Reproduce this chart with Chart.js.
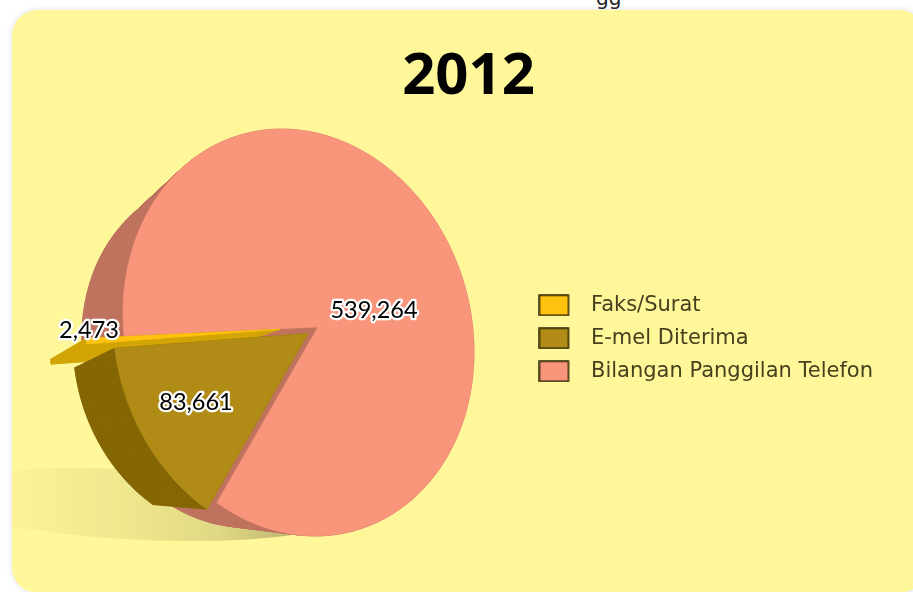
<!DOCTYPE html>
<html><head><meta charset="utf-8">
<style>
html,body{margin:0;padding:0;background:#fff;width:913px;height:592px;overflow:hidden}
#card{position:absolute;left:12px;top:10px;width:913px;height:583px;background:#fff799;border-radius:26px;box-shadow:0 0 7px rgba(0,0,0,.12)}
#clip{position:absolute;left:596px;top:-14px;font:20px "DejaVu Sans";color:#222}
canvas{display:block}
</style>
<script src="https://cdn.jsdelivr.net/npm/chart.js@4"></script>
</head><body>
<div id="clip">gg</div>
<div id="card"><canvas id="c" width="913" height="583"></canvas></div>
<script>
const titleText = '2012';
const categories = ['Bilangan Panggilan Telefon', 'E-mel Diterima', 'Faks/Surat'];
const values = [539264, 83661, 2473];
const colours = ['#f9957a', '#b08c17', '#ffc20e'];
const sideColours = ['#bf735f', '#846605', '#d2a406'];
const sliceOffsets = [0, 12, 38];

// Picture-space projection of the tilted pie
const APEX = {x: 318, y: 327}, ELL = {x: 298.5, y: 332.5, rx: 175.5, sh: 19.5, ry: 202.5};
const GAP_MID = 145.6 * Math.PI / 180, WARP = 0.129;
const LABEL_AT = [[374, 310], [196, 402], [89, 330]];
const DRAW_ORDER = [0, 2, 1];
const toBack = p => ({x: -22.75 + 0.85 * p.x, y: 71.75 + 0.85 * p.y});
function rimPoint(a) {
  const t = a + WARP * Math.sin(a - GAP_MID), c = Math.cos(t), s = Math.sin(t);
  return {x: ELL.x + ELL.rx * c, y: ELL.y + ELL.sh * c + ELL.ry * s};
}
function sliceOutline(arc) {
  const s = arc.startAngle, e = arc.endAngle, mid = (s + e) / 2;
  const m = rimPoint(mid), dx = m.x - APEX.x, dy = m.y - APEX.y, d = Math.hypot(dx, dy);
  const off = arc.options.offset || 0, ox = off * dx / d, oy = off * dy / d;
  const rim = [], n = Math.max(2, Math.ceil((e - s) / 0.02));
  for (let i = 0; i <= n; i++) {
    const r = rimPoint(s + (e - s) * i / n);
    rim.push({x: r.x + ox, y: r.y + oy});
  }
  return {apex: {x: APEX.x + ox, y: APEX.y + oy}, rim};
}
function fillPoly(ctx, pts, col) {
  ctx.beginPath();
  pts.forEach((p, i) => i ? ctx.lineTo(p.x, p.y) : ctx.moveTo(p.x, p.y));
  ctx.closePath();
  ctx.fillStyle = col; ctx.strokeStyle = col; ctx.lineWidth = 0.6; ctx.lineJoin = 'round';
  ctx.fill(); ctx.stroke();
}
const pie3d = {
  id: 'pie3d',
  beforeDatasetDraw() { return false; },
  afterDatasetsDraw(chart) {
    const ctx = chart.ctx, arcs = chart.getDatasetMeta(0).data;
    ctx.save();
    ctx.translate(-12, -10);
    // ground shadow
    ctx.save();
    const g = ctx.createLinearGradient(12, 0, 330, 0);
    g.addColorStop(0, 'rgba(120,120,60,.03)');
    g.addColorStop(0.35, 'rgba(120,120,60,.12)');
    g.addColorStop(0.65, 'rgba(110,110,60,.22)');
    g.addColorStop(0.85, 'rgba(100,100,60,.4)');
    g.addColorStop(1, 'rgba(70,70,40,.8)');
    ctx.fillStyle = g;
    ctx.beginPath();
    ctx.ellipse(135, 504.5, 205, 35, 3 * Math.PI / 180, 0, Math.PI * 2);
    ctx.fill();
    ctx.restore();
    // solid slices
    DRAW_ORDER.forEach(i => {
      const arc = arcs[i];
      const o = sliceOutline(arc), side = sideColours[i], back = o.rim.map(toBack), bApex = toBack(o.apex);
      fillPoly(ctx, [bApex, ...back], side);
      for (let k = 0; k < o.rim.length - 1; k++) fillPoly(ctx, [o.rim[k], o.rim[k + 1], back[k + 1], back[k]], side);
      fillPoly(ctx, [o.apex, o.rim[0], back[0], bApex], side);
      fillPoly(ctx, [o.apex, o.rim[o.rim.length - 1], back[back.length - 1], bApex], side);
      fillPoly(ctx, [o.apex, ...o.rim], arc.options.backgroundColor);
    });
    // value labels
    ctx.font = '23.5px Lato';
    ctx.textAlign = 'center'; ctx.textBaseline = 'middle'; ctx.lineJoin = 'round';
    values.forEach((v, i) => {
      const txt = v.toLocaleString('en-US'), [x, y] = LABEL_AT[i];
      ctx.strokeStyle = '#fff'; ctx.lineWidth = 4.5; ctx.strokeText(txt, x, y + 0.5);
      ctx.fillStyle = '#000'; ctx.fillText(txt, x, y + 0.5);
    });
    ctx.restore();
  }
};
function legendSwatch(col) {
  const cv = document.createElement('canvas');
  cv.width = 42; cv.height = 22;
  const x = cv.getContext('2d');
  x.fillStyle = col; x.fillRect(1, 1, 29, 20);
  x.strokeStyle = '#2a2200'; x.lineWidth = 1.5; x.strokeRect(1, 1, 29, 20);
  return cv;
}
new Chart(document.getElementById('c'), {
  type: 'pie',
  data: {labels: categories, datasets: [{data: values, backgroundColor: colours, offset: sliceOffsets, borderWidth: 0}]},
  plugins: [pie3d],
  options: {
    responsive: false, animation: false, rotation: 260.4,
    layout: {padding: {left: 42, right: 42, top: 0, bottom: 29}},
    plugins: {
      tooltip: {enabled: false},
      title: {display: true, text: titleText, color: '#000', align: 'center',
        font: {family: '"Open Sans"', size: 58, weight: 'bold'}, padding: {top: 33, bottom: 0}},
      legend: {position: 'right', reverse: true, align: 'center', fullSize: false,
        labels: {
          usePointStyle: true, pointStyleWidth: 42, padding: 12,
          color: '#45411f', font: {family: '"DejaVu Sans"', size: 21},
          generateLabels: c => categories.map((t, i) => ({
            text: t, index: i, datasetIndex: 0, hidden: false, fontColor: '#45411f',
            fillStyle: colours[i], strokeStyle: '#2a2200', lineWidth: 1, pointStyle: legendSwatch(colours[i])
          }))
        }}
    }
  }
});
</script>
</body></html>
